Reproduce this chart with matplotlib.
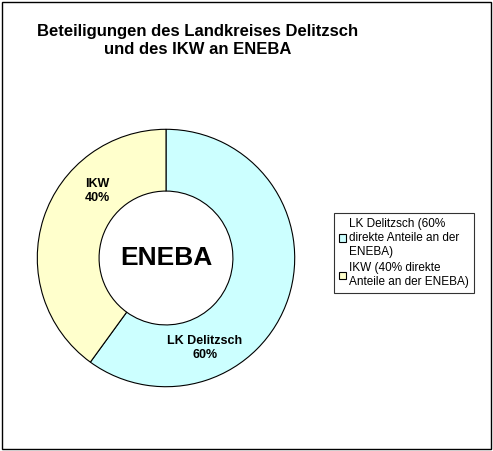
import matplotlib.pyplot as plt
from matplotlib.patches import Rectangle

labels = ["LK Delitzsch", "IKW"]
shares = [60, 40]
legend_labels = ["LK Delitzsch (60%\ndirekte Anteile an der\nENEBA)",
                 "IKW (40% direkte\nAnteile an der ENEBA)"]
colors = ["#CCFFFF", "#FFFFCC"]

fig = plt.figure(figsize=(4.93, 4.51), dpi=100)
fig.patches.append(Rectangle((0.004, 0.004), 0.992, 0.992, transform=fig.transFigure,
                             fill=False, edgecolor="black", linewidth=1))

fig.text(0.40, 0.91, "Beteiligungen des Landkreises Delitzsch\nund des IKW an ENEBA",
         ha="center", va="center", multialignment="center", fontsize=12,
         fontweight="bold", family="Liberation Sans", linespacing=1.3)

# pie axes: center (166,258), radius 130 px
ax = fig.add_axes([36 / 493, 1 - 388 / 451, 260 / 493, 260 / 451])
wedges, _ = ax.pie(shares, colors=colors, startangle=90, counterclock=False,
                   radius=1.0, wedgeprops=dict(width=0.48, edgecolor="black", linewidth=0.8))
ax.set_xlim(-1.01, 1.01)
ax.set_ylim(-1.01, 1.01)
ax.set_aspect("equal")
ax.text(0, 0, "ENEBA", ha="center", va="center", fontsize=19, fontweight="bold",
        family="Liberation Sans")
ax.text(0.30, -0.70, "LK Delitzsch\n60%", ha="center", va="center", fontsize=9,
        fontweight="bold", family="Liberation Sans")
ax.text(-0.63, 0.52, "IKW\n40%", ha="left", va="center", fontsize=9,
        fontweight="bold", family="Liberation Sans")

leg = fig.legend(wedges, legend_labels, loc="center left",
                 bbox_to_anchor=(328 / 493, 1 - 253 / 451), frameon=True, fancybox=False,
                 edgecolor="black", handlelength=0.6, handleheight=0.6, handletextpad=0.3,
                 borderpad=0.4, labelspacing=0.4,
                 prop={"family": "Liberation Sans", "size": 8.5})
leg.get_frame().set_linewidth(0.8)

fig.savefig("out.png", dpi=100)
